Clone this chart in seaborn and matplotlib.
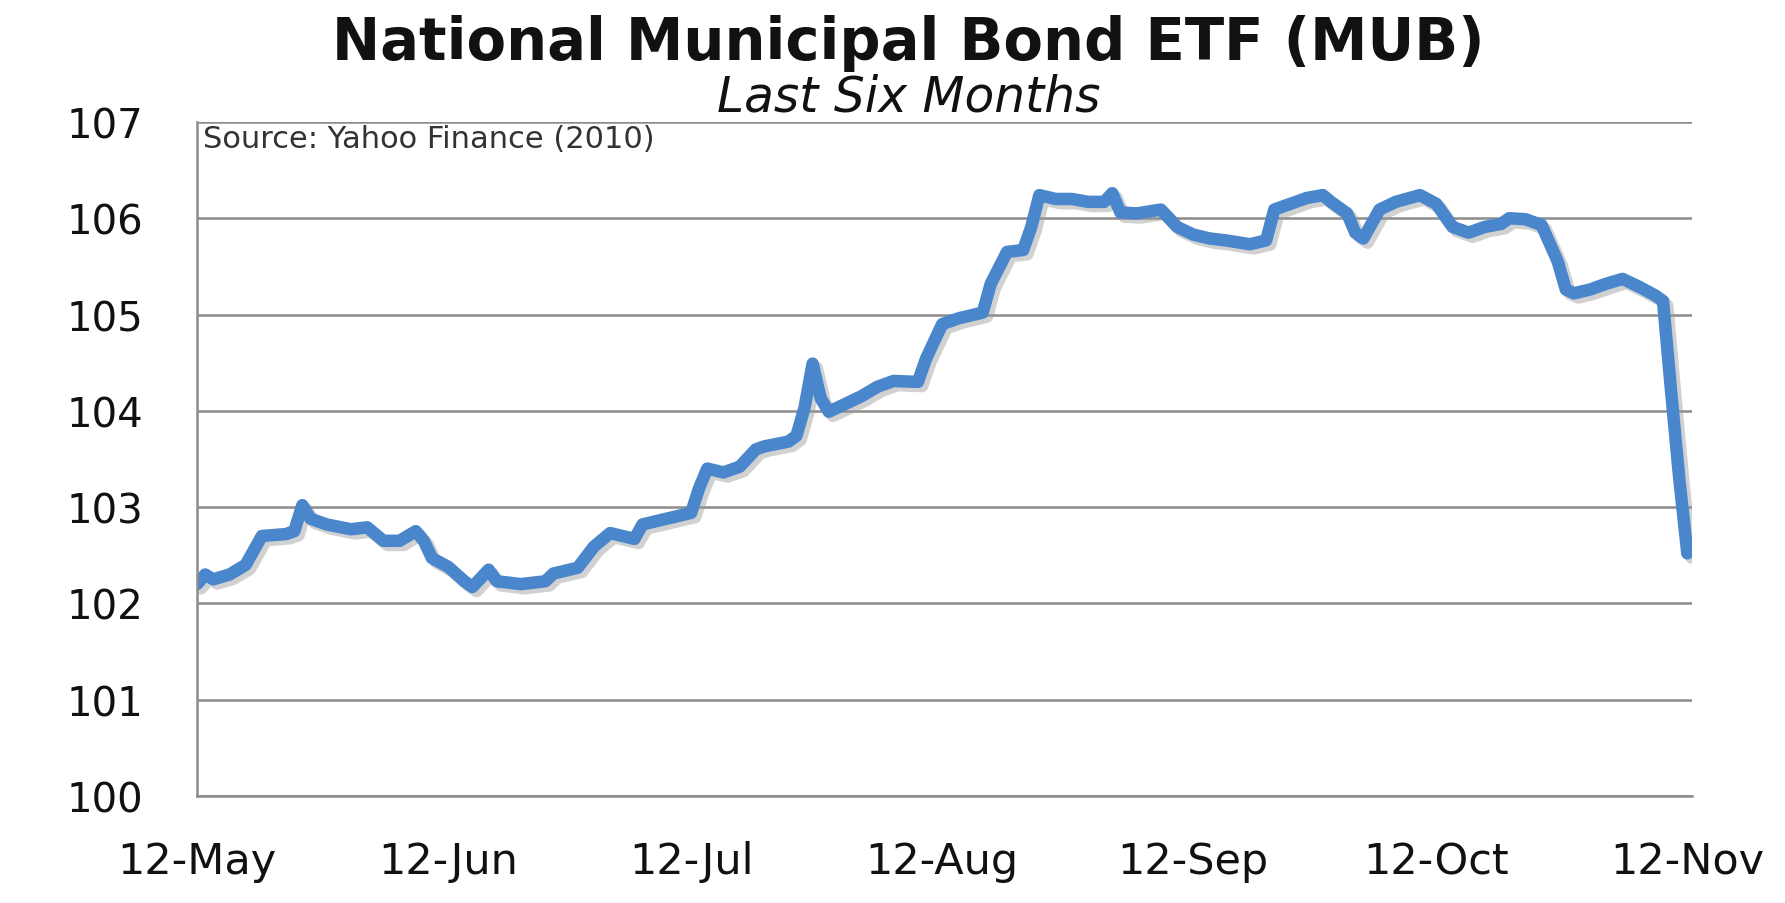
import matplotlib
matplotlib.use("Agg")
import matplotlib.pyplot as plt
import matplotlib.patheffects as pe
import seaborn as sns
import pandas as pd

dates = [
    "2010-05-12", "2010-05-13", "2010-05-14", "2010-05-16", "2010-05-18", "2010-05-20",
    "2010-05-23", "2010-05-24", "2010-05-25", "2010-05-26", "2010-05-28", "2010-05-31",
    "2010-06-02", "2010-06-04", "2010-06-06", "2010-06-08", "2010-06-09", "2010-06-10",
    "2010-06-12", "2010-06-14", "2010-06-15", "2010-06-17", "2010-06-18", "2010-06-21",
    "2010-06-24", "2010-06-25", "2010-06-28", "2010-06-30", "2010-07-02", "2010-07-05",
    "2010-07-06", "2010-07-09", "2010-07-12", "2010-07-13", "2010-07-14", "2010-07-16",
    "2010-07-18", "2010-07-20", "2010-07-21", "2010-07-24", "2010-07-25", "2010-07-26",
    "2010-07-27", "2010-07-28", "2010-07-29", "2010-07-31", "2010-08-02", "2010-08-04",
    "2010-08-06", "2010-08-09", "2010-08-10", "2010-08-12", "2010-08-14", "2010-08-17",
    "2010-08-18", "2010-08-20", "2010-08-22", "2010-08-23", "2010-08-24", "2010-08-26",
    "2010-08-28", "2010-08-30", "2010-09-01", "2010-09-02", "2010-09-03", "2010-09-05",
    "2010-09-08", "2010-09-10", "2010-09-12", "2010-09-14", "2010-09-16", "2010-09-19",
    "2010-09-21", "2010-09-22", "2010-09-24", "2010-09-26", "2010-09-28", "2010-09-29",
    "2010-10-01", "2010-10-02", "2010-10-03", "2010-10-05", "2010-10-07", "2010-10-10",
    "2010-10-12", "2010-10-14", "2010-10-16", "2010-10-18", "2010-10-20", "2010-10-21",
    "2010-10-23", "2010-10-25", "2010-10-27", "2010-10-28", "2010-10-29", "2010-10-31",
    "2010-11-02", "2010-11-04", "2010-11-06", "2010-11-08", "2010-11-09", "2010-11-10",
    "2010-11-11", "2010-11-12",
]
prices = [
    102.20, 102.30, 102.25, 102.30, 102.40, 102.70,
    102.72, 102.75, 103.02, 102.88, 102.82, 102.77,
    102.79, 102.65, 102.65, 102.75, 102.65, 102.47,
    102.38, 102.23, 102.17, 102.35, 102.23, 102.20,
    102.23, 102.31, 102.37, 102.59, 102.73, 102.67,
    102.82, 102.88, 102.94, 103.20, 103.40, 103.36,
    103.42, 103.60, 103.63, 103.68, 103.74, 104.03,
    104.49, 104.13, 103.99, 104.07, 104.15, 104.25,
    104.31, 104.30, 104.54, 104.90, 104.96, 105.02,
    105.32, 105.65, 105.67, 105.91, 106.24, 106.20,
    106.20, 106.17, 106.17, 106.26, 106.06, 106.05,
    106.09, 105.91, 105.83, 105.79, 105.77, 105.73,
    105.77, 106.09, 106.15, 106.21, 106.24, 106.17,
    106.05, 105.85, 105.79, 106.09, 106.17, 106.24,
    106.15, 105.91, 105.85, 105.91, 105.94, 106.00,
    105.99, 105.93, 105.55, 105.26, 105.22, 105.26,
    105.32, 105.37, 105.29, 105.20, 105.14, 104.20,
    103.30, 102.52,
]
tick_dates = ["2010-05-12", "2010-06-12", "2010-07-12", "2010-08-12",
              "2010-09-12", "2010-10-12", "2010-11-12"]
tick_labels = ["12-May", "12-Jun", "12-Jul", "12-Aug", "12-Sep", "12-Oct", "12-Nov"]
y_ticks = [100, 101, 102, 103, 104, 105, 106, 107]

title = "National Municipal Bond ETF (MUB)"
subtitle = "Last Six Months"
source = "Source: Yahoo Finance (2010)"

sns.set_theme(style="white")
plt.rcParams["font.family"] = ["DejaVu Sans"]

df = pd.DataFrame({"date": pd.to_datetime(dates), "price": prices})

fig = plt.figure(figsize=(17.85, 9.04), dpi=100)
ax = fig.add_axes([0.1104, 0.1184, 0.8376, 0.7456])

line_color = "#4a86cc"
sns.lineplot(data=df, x="date", y="price", ax=ax, color=line_color, linewidth=9,
             solid_joinstyle="round", solid_capstyle="round")
for ln in ax.get_lines():
    ln.set_path_effects([pe.SimpleLineShadow(offset=(3, -3), shadow_color="#9a9a9a", alpha=0.45),
                         pe.Normal()])

ax.set_ylim(100, 107)
ax.set_yticks(y_ticks)
ax.set_yticklabels([str(v) for v in y_ticks])
td = pd.to_datetime(tick_dates)
ax.set_xticks(td)
ax.set_xticklabels(tick_labels)
ax.set_xlim(td[0], td[-1] + pd.Timedelta(days=0.6))

grid_c = "#8c8c8c"
ax.grid(axis="y", color=grid_c, linewidth=1.8)
ax.grid(axis="x", visible=False)
ax.set_axisbelow(True)
for s in ["top", "right"]:
    ax.spines[s].set_visible(False)
for s in ["left", "bottom"]:
    ax.spines[s].set_color(grid_c)
    ax.spines[s].set_linewidth(1.8)
ax.tick_params(axis="both", which="major", direction="out", width=1.8,
               color=grid_c, labelcolor="#111111")
ax.tick_params(axis="x", length=9, pad=23, labelsize=31)
ax.tick_params(axis="y", length=12, pad=27, labelsize=29)
ax.set_xlabel("")
ax.set_ylabel("")

fig.text(0.509, 0.952, title, ha="center", va="center", fontsize=41.5,
         fontweight="bold", color="#111111")
fig.text(0.509, 0.892, subtitle, ha="center", va="center", fontsize=35,
         style="italic", color="#111111")
ax.text(0.004, 0.997, source, transform=ax.transAxes, ha="left", va="top",
        fontsize=22, color="#333333")

fig.savefig("out.png", dpi=100, facecolor="white")
